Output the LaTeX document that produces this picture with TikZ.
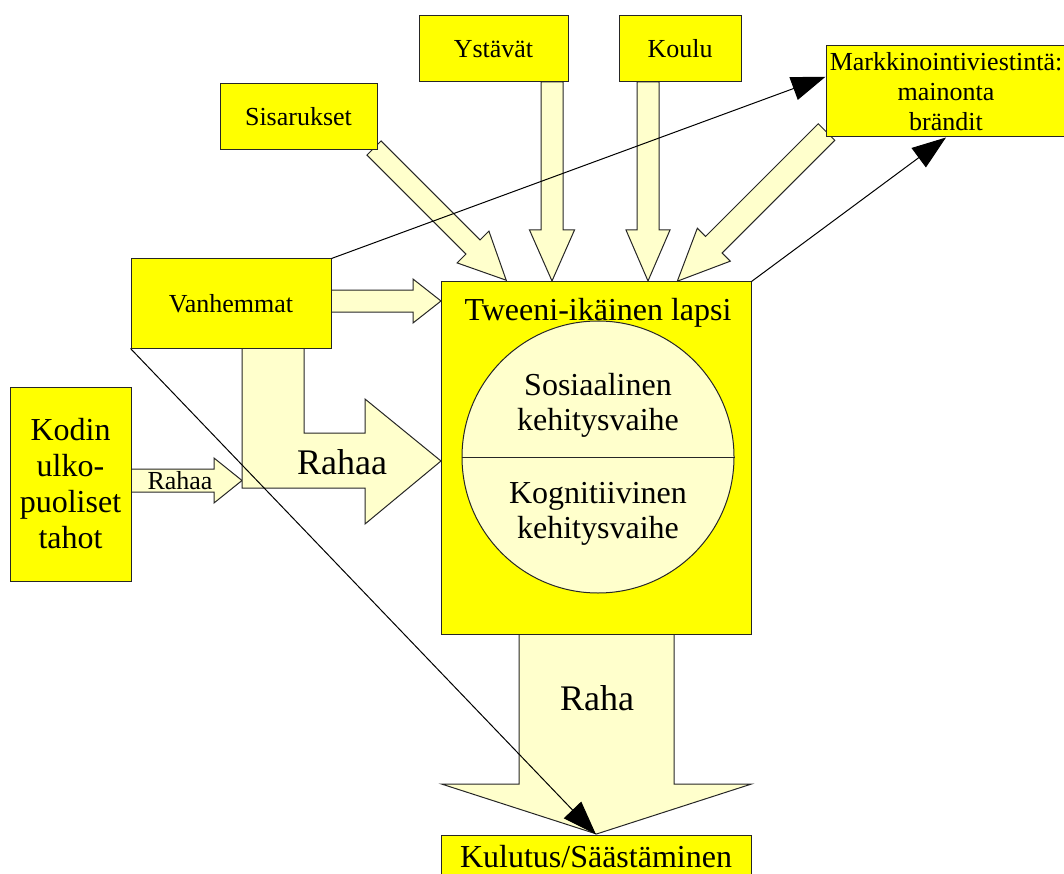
\documentclass[tikz,border=0pt]{standalone}
\usepackage{fontspec}
\setmainfont{Liberation Serif}
\usetikzlibrary{arrows.meta, calc, positioning}

\definecolor{boxyellow}{HTML}{FFFF00}
\definecolor{flowyellow}{HTML}{FFFFCC}

\tikzset{
  pics/blockarrow/.style args={#1/#2/#3/#4}{code={
    \draw[flow] (0,-#2) -- (#1-#4,-#2) -- (#1-#4,-#3) -- (#1,0)
      -- (#1-#4,#3) -- (#1-#4,#2) -- (0,#2) -- cycle;
  }}
}

\begin{document}
\begin{tikzpicture}[
    x=1pt, y=-1pt,
    box/.style={rectangle, draw=black!85, line width=1pt, fill=boxyellow, align=center, inner sep=0pt},
    small/.style={font=\fontsize{26}{30}\selectfont},
    medium/.style={font=\fontsize{32}{35}\selectfont},
    large/.style={font=\fontsize{36}{40}\selectfont},
    flow/.style={draw=black!85, line width=1pt, fill=flowyellow},
    arrow/.style={line width=1pt, -{Triangle[length=34pt, width=24pt]}}
  ]
  \useasboundingbox (0,0) rectangle (1064,874);

  % block arrows
  \pic[rotate=-45] at (374,148) {blockarrow=187/10/22.5/47};
  \pic[rotate=-90] at (552,82) {blockarrow=199/11/22.5/51};
  \pic[rotate=-90] at (648,82) {blockarrow=199/11/22/51};
  \pic[rotate=-135] at (826.5,132) {blockarrow=211/11.7/23.3/51.6};
  \pic at (331,301) {blockarrow=110/11/22/28};
  \pic at (131,480.5) {blockarrow=111/11.5/22.5/28};
  \pic[rotate=-90] at (596.5,634) {blockarrow=200/77.5/155/50};
  \draw[flow] (242,348) -- (304,348) -- (304,433) -- (365,433) -- (365,399)
    -- (441,461) -- (365,524) -- (365,488) -- (242,488) -- cycle;

  % boxes
  \node (sis) [box, small, minimum width=157pt, minimum height=66pt] at (298.5,117) {Sisarukset};
  \node (yst) [box, small, minimum width=149pt, minimum height=66pt] at (493.5,49) {Ystävät};
  \node (kou) [box, small, minimum width=122pt, minimum height=66pt] at (680,49) {Koulu};
  \node (mark) [box, small, minimum width=240pt, minimum height=91pt] at (946,91.5)
    {Markkinointiviestintä:\\mainonta\\brändit};
  \node (vanh) [box, small, minimum width=200pt, minimum height=89pt] at (231,303.5) {Vanhemmat};
  \node (kodin) [box, medium, font=\fontsize{32}{36}\selectfont, minimum width=121pt, minimum height=194pt]
    at (70.5,484) {Kodin\\ulko-\\puoliset\\tahot};
  \node (tween) [box, minimum width=310pt, minimum height=352pt] at (596,458) {};
  \node (kul) [box, medium, minimum width=310pt, minimum height=44pt] at (596,857) {Kulutus/Säästäminen};

  % child
  \node (circ) [circle, draw=black!85, line width=1pt, fill=flowyellow, minimum size=272pt, inner sep=0pt]
    at (598,457) {};
  \draw[line width=1pt, black!85] (circ.west) -- (circ.east);
  \node (title) [medium] at (598,313) {Tweeni-ikäinen lapsi};
  \node (soc) [medium, align=center] at (598,405) {Sosiaalinen\\kehitysvaihe};
  \node (kog) [medium, align=center] at (598,514) {Kognitiivinen\\kehitysvaihe};

  % money labels
  \node (rahaabig) [large] at (342,462) {Rahaa};
  \node (rahaasmall) [small] at (180,481) {Rahaa};
  \node (raha) [large] at (597,698) {Raha};

  \draw [arrow] (vanh.north east) -- ($(mark.north west)!0.34!(mark.south west)$);
  \draw [arrow] (tween.north east) -- (mark.south);
  \draw [arrow] (vanh.south west) -- (kul.north);
\end{tikzpicture}
\end{document}
